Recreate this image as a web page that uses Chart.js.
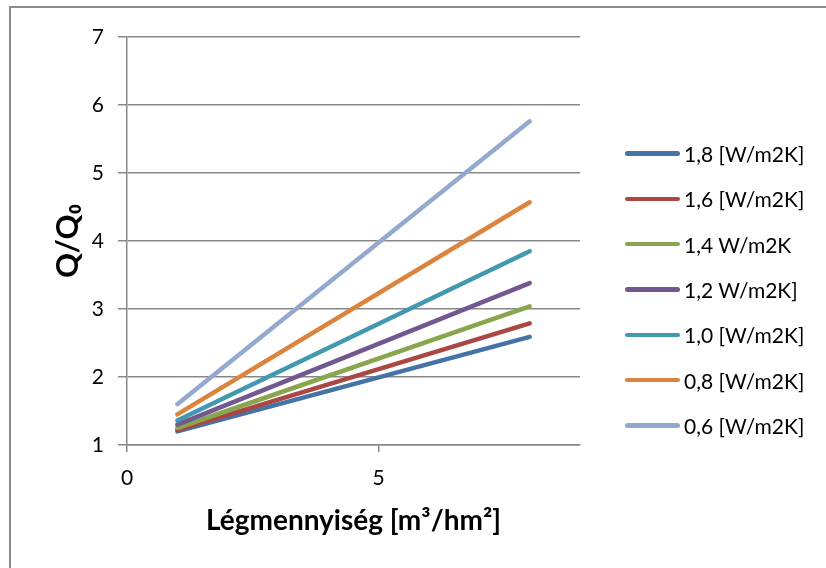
<!DOCTYPE html>
<html>
<head>
<meta charset="utf-8">
<script src="https://cdn.jsdelivr.net/npm/chart.js@4/dist/chart.umd.min.js"></script>
<style>
  html, body { margin: 0; padding: 0; background: #fff; overflow: hidden; }
  #wrap { position: relative; width: 826px; height: 568px; }
  #frame { position: absolute; left: 9px; top: 6px; width: 900px; height: 700px; border: 2px solid #8a8a8a; box-sizing: border-box; }
  canvas { position: absolute; left: 0; top: 0; }
  #legend { position: absolute; left: 625px; top: 131px; font-family: Lato, "Liberation Sans", sans-serif; font-size: 21px; color: #000; }
  .item { height: 45.3px; display: flex; align-items: center; white-space: nowrap; }
  .swatch { width: 55px; height: 4.5px; border-radius: 3px; margin-right: 4px; }
</style>
</head>
<body>
<div id="wrap">
  <div id="frame"></div>
  <canvas id="c" width="826" height="568"></canvas>
  <div id="legend"></div>
</div>
<script>
// ---- data ----
const xValues = [1, 8];
const s18 = [1.20, 2.59];
const s16 = [1.22, 2.79];
const s14 = [1.25, 3.04];
const s12 = [1.30, 3.38];
const s10 = [1.36, 3.85];
const s08 = [1.45, 4.57];
const s06 = [1.60, 5.76];
const seriesLabels = ['1,8 [W/m2K]', '1,6 [W/m2K]', '1,4 W/m2K', '1,2 W/m2K]', '1,0 [W/m2K]', '0,8 [W/m2K]', '0,6 [W/m2K]'];
const seriesValues = [s18, s16, s14, s12, s10, s08, s06];
const yTicks = [1, 2, 3, 4, 5, 6, 7];
const xTicks = [0, 5];
const xTitle = 'Légmennyiség [m³/hm²]';
const yTitle = 'Q/Q₀';

// ---- styles ----
const colors = ['#4572A7', '#AA4643', '#89A54E', '#71588F', '#4198AF', '#DB843D', '#93A9CF'];
const gridColor = '#878787';
const fontFamily = 'Lato, "Liberation Sans", sans-serif';

const datasets = seriesValues.map((vals, i) => ({
  label: seriesLabels[i],
  data: xValues.map((x, j) => ({ x: x, y: vals[j] })),
  borderColor: colors[i],
  backgroundColor: colors[i],
  borderWidth: 4.5,
  borderCapStyle: 'round',
  showLine: true,
  pointRadius: 0,
  order: seriesValues.length - i
}));

new Chart(document.getElementById('c'), {
  type: 'scatter',
  data: { datasets },
  options: {
    responsive: false,
    animation: false,
    events: [],
    layout: { padding: { left: 0, top: 37, right: 246, bottom: 0 } },
    plugins: { legend: { display: false }, tooltip: { enabled: false } },
    scales: {
      x: {
        type: 'linear',
        min: 0,
        max: 9,
        afterFit: s => { s.height = 123; },
        afterBuildTicks: s => { s.ticks = xTicks.map(v => ({ value: v })); },
        ticks: { font: { family: fontFamily, size: 21 }, color: '#000', padding: 14, maxRotation: 0 },
        grid: { drawOnChartArea: false, drawTicks: true, tickLength: 7, color: gridColor, lineWidth: 1.5 },
        border: { display: true, color: gridColor, width: 1.5 },
        title: { display: true, text: xTitle, color: '#000', font: { family: fontFamily, size: 28, weight: 'bold' }, padding: { top: 0, bottom: 30 } }
      },
      y: {
        type: 'linear',
        min: 1,
        max: 7,
        afterFit: s => { s.width = 127; },
        afterBuildTicks: s => { s.ticks = yTicks.map(v => ({ value: v })); },
        ticks: { font: { family: fontFamily, size: 21 }, color: '#000', padding: 14 },
        grid: { drawOnChartArea: true, drawTicks: true, tickLength: 9, color: gridColor, lineWidth: 1.5 },
        border: { display: true, color: gridColor, width: 1.5 },
        title: { display: true, text: yTitle, color: '#000', font: { family: fontFamily, size: 31, weight: 'bold' }, padding: { top: 49, bottom: 0 } }
      }
    }
  }
});

// HTML legend built from the same series labels and colours
const legend = document.getElementById('legend');
seriesLabels.forEach((lab, i) => {
  const item = document.createElement('div');
  item.className = 'item';
  const sw = document.createElement('span');
  sw.className = 'swatch';
  sw.style.background = colors[i];
  const tx = document.createElement('span');
  tx.textContent = lab;
  item.appendChild(sw);
  item.appendChild(tx);
  legend.appendChild(item);
});
</script>
</body>
</html>
